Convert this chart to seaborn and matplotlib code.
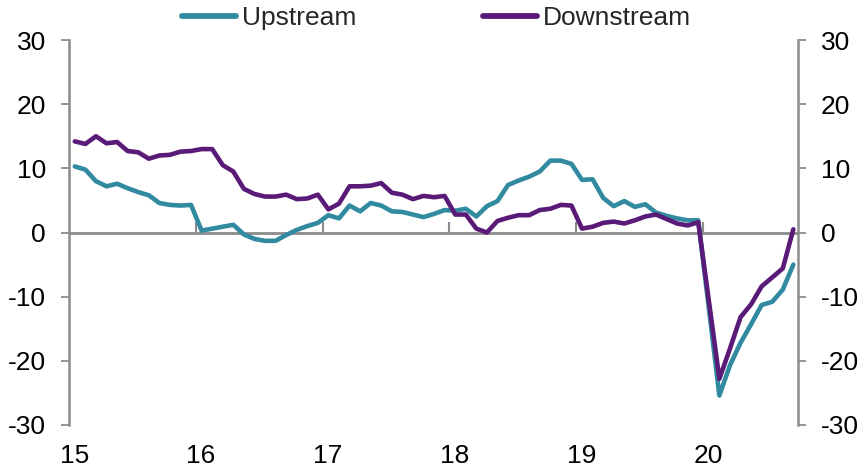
import numpy as np
import pandas as pd
import matplotlib
matplotlib.use("Agg")
import matplotlib.pyplot as plt
import seaborn as sns
from matplotlib.lines import Line2D

# ---- data (monthly, Jan 2015 - Sep 2020; Jan 2020 not reported) ----
months = pd.date_range("2015-01-01", "2020-09-01", freq="MS")
upstream = [10.3, 9.8, 8.0, 7.2, 7.6, 6.9, 6.3, 5.8, 4.6, 4.3, 4.2, 4.3,
            0.3, 0.6, 0.9, 1.2, -0.3, -1.0, -1.3, -1.3, -0.4, 0.4, 1.0, 1.5,
            2.7, 2.2, 4.2, 3.3, 4.6, 4.2, 3.3, 3.2, 2.8, 2.4, 2.9, 3.5,
            3.4, 3.7, 2.5, 4.1, 4.9, 7.4, 8.1, 8.7, 9.5, 11.2, 11.2, 10.7,
            8.2, 8.3, 5.4, 4.1, 4.9, 4.0, 4.4, 3.1, 2.6, 2.2, 1.9, 1.9,
            None, -25.4, -20.7, -17.2, -14.3, -11.3, -10.8, -8.9, -5.0]
downstream = [14.2, 13.8, 15.0, 13.9, 14.1, 12.7, 12.5, 11.5, 12.0, 12.1, 12.6, 12.7,
              13.0, 13.0, 10.5, 9.5, 6.8, 6.0, 5.6, 5.6, 5.9, 5.2, 5.3, 5.9,
              3.6, 4.5, 7.2, 7.2, 7.3, 7.7, 6.2, 5.9, 5.2, 5.7, 5.5, 5.7,
              2.8, 2.8, 0.6, 0.0, 1.8, 2.3, 2.7, 2.7, 3.5, 3.7, 4.3, 4.2,
              0.6, 0.9, 1.5, 1.7, 1.4, 1.9, 2.5, 2.8, 2.1, 1.4, 1.1, 1.6,
              None, -22.8, -18.1, -13.2, -11.2, -8.4, -7.0, -5.6, 0.5]
series_names = ["Upstream", "Downstream"]
colors = ["#318A9F", "#5A1A78"]
year_labels = ["15", "16", "17", "18", "19", "20"]
y_ticks = [-30, -20, -10, 0, 10, 20, 30]

# ---- build long table ----
pos = months.year + (months.month - 1 + 0.55) / 12.0
df = pd.DataFrame({"pos": list(pos) * 2,
                   "value": upstream + downstream,
                   "series": [series_names[0]] * len(months) + [series_names[1]] * len(months)})
df["value"] = pd.to_numeric(df["value"])
df = df.dropna()

sns.set_theme(style="white")
plt.rcParams["font.family"] = ["Liberation Sans", "DejaVu Sans"]

FS = 19
fig = plt.figure(figsize=(8.62, 4.72), dpi=100)
ax = fig.add_axes([69 / 862, 1 - 425 / 472, (798 - 69) / 862, (425 - 40) / 472])

grey = "#8C8C8C"
ax.axhline(0, color=grey, lw=2, zorder=1)

sns.lineplot(data=df, x="pos", y="value", hue="series", palette=colors,
             hue_order=series_names, linewidth=3.3, ax=ax, legend=False,
             sort=True, estimator=None, zorder=3)

ax.set_xlim(2015, 2015 + 729 / 126.8)
ax.set_ylim(-30, 30)
ax.set_xlabel("")
ax.set_ylabel("")

for s in ["top", "bottom"]:
    ax.spines[s].set_visible(False)
for s in ["left", "right"]:
    ax.spines[s].set_visible(True)
    ax.spines[s].set_color(grey)
    ax.spines[s].set_linewidth(1.8)

ax.set_yticks(y_ticks)
ax.set_yticklabels([str(v) for v in y_ticks])
ax.tick_params(axis="y", which="both", left=True, right=True, labelleft=True,
               labelright=True, direction="out", length=5.5, width=1.3,
               color=grey, labelsize=FS, pad=11, labelcolor="black")

years = np.arange(2015, 2021)
ax.set_xticks(years + 0.5 / 12)
ax.set_xticklabels(year_labels)
ax.tick_params(axis="x", bottom=True, length=0, pad=14, labelsize=FS, labelcolor="black")

# year tick marks on the zero line
sec = ax.secondary_xaxis(0.5)
sec.set_xticks(years[1:])
sec.set_xticklabels([])
sec.tick_params(axis="x", direction="out", length=7, width=1.5, color=grey)
for s in ["top", "bottom", "left", "right"]:
    sec.spines[s].set_visible(False)

handles = [Line2D([0], [0], color=c, lw=4.2) for c in colors]
fig.legend(handles, series_names, loc="center", bbox_to_anchor=(0.506, 0.962),
           ncol=2, frameon=False, fontsize=FS, handlelength=2.05,
           handletextpad=0.22, columnspacing=4.8)

fig.savefig("out.png", dpi=100)
